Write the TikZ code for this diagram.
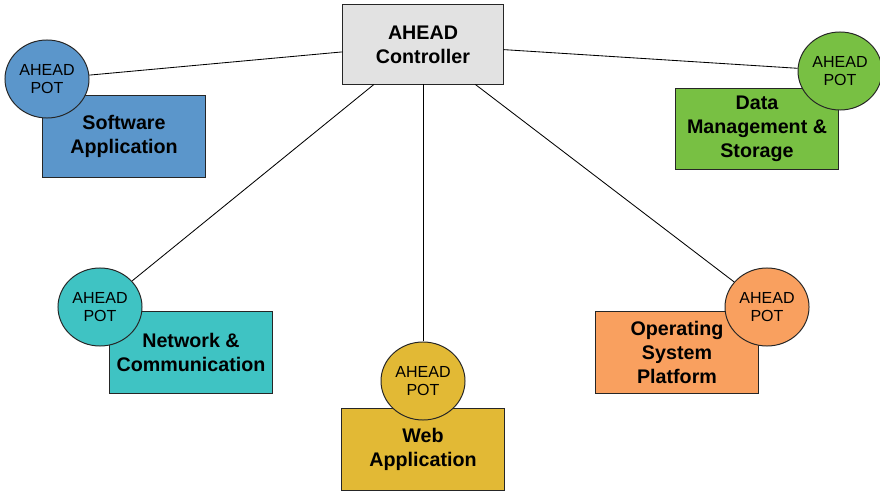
\documentclass[tikz,border=0pt]{standalone}
\usepackage{fontspec}
\setmainfont{Liberation Sans}
\usetikzlibrary{shapes.geometric}
\definecolor{ctrlGrey}{HTML}{E2E2E2}
\definecolor{swBlue}{HTML}{5B96CB}
\definecolor{dataGreen}{HTML}{78C043}
\definecolor{netTeal}{HTML}{3FC3C3}
\definecolor{webGold}{HTML}{E2B935}
\definecolor{osOrange}{HTML}{F9A05F}
\begin{document}
\begin{tikzpicture}[x=0.025cm,y=-0.025cm,
  font=\fontsize{14}{17}\selectfont\bfseries,
  appbox/.style={draw=black!85,line width=0.7pt,minimum width=4.05cm,minimum height=2.025cm,align=center,inner sep=1pt},
  pot/.style={ellipse,draw=black!85,line width=0.7pt,minimum width=2.1cm,minimum height=1.95cm,inner sep=0pt,align=center,font=\fontsize{11.4}{12.8}\selectfont\mdseries}]
  \useasboundingbox (0,0) rectangle (880,491);
  \node[appbox,fill=ctrlGrey,minimum width=4cm,minimum height=1.975cm] (ctrl) at (423,44.5) {AHEAD\\Controller};
  \foreach \n/\bx/\by/\px/\py/\c/\t in {
      sw/124/136.5/47/79/swBlue/{Software\\Application},
      data/757/129/840/71/dataGreen/{Data\\Management \&\\Storage},
      net/191/352.5/100/307/netTeal/{Network \&\\Communication},
      web/423/449.5/423/381/webGold/{Web\\Application},
      os/677/352.5/767/307/osOrange/{Operating\\System\\Platform}}{
    \node[appbox,fill=\c] (b\n) at (\bx,\by) {\t};
    \node[pot,fill=\c] (p\n) at (\px,\py) {AHEAD\\POT};
    \draw[line width=0.6pt] (ctrl) -- (p\n);}
\end{tikzpicture}
\end{document}
